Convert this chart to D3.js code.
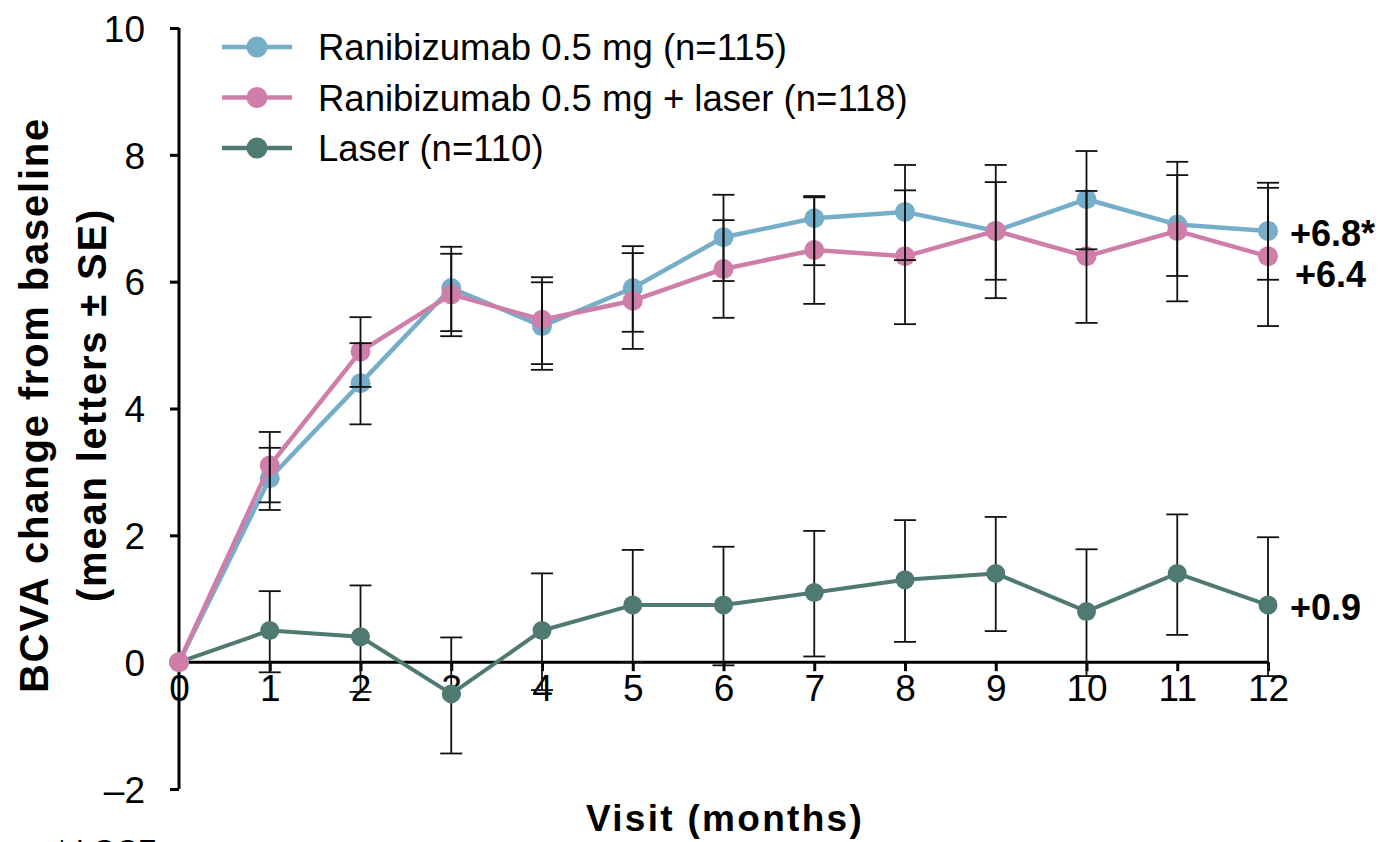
<!DOCTYPE html>
<html><head><meta charset="utf-8">
<script src="https://cdn.jsdelivr.net/npm/d3@7/dist/d3.min.js"></script>
<style>
html,body{margin:0;padding:0;background:#fff;overflow:hidden}
text{font-family:"Liberation Sans",Arial,sans-serif}
</style></head>
<body><svg id="chart" width="1382" height="842"></svg>
<script>
// ---- data ----
const months = [0,1,2,3,4,5,6,7,8,9,10,11,12];
const yTicks = [-2,0,2,4,6,8,10];
const seriesNames = ["Ranibizumab 0.5 mg (n=115)","Ranibizumab 0.5 mg + laser (n=118)","Laser (n=110)"];
const seriesColors = ["#76AEC9","#CE7EA9","#4F7A71"];
const endLabels = ["+6.8*","+6.4","+0.9"];

const raniMean = [0,2.9,4.4,5.9,5.3,5.9,6.7,7.0,7.1,6.8,7.3,6.9,6.8];
const raniHi   = [null,3.38,5.03,6.55,5.99,6.56,7.37,7.33,7.84,7.84,8.06,7.68,7.56];
const raniLo   = [null,2.40,3.75,5.22,4.61,5.21,6.01,6.26,6.34,5.74,6.51,6.09,6.03];

const comboMean = [0,3.1,4.9,5.8,5.4,5.7,6.2,6.5,6.4,6.8,6.4,6.8,6.4];
const comboHi   = [null,3.63,5.44,6.44,6.07,6.45,6.97,7.35,7.44,7.57,7.43,7.89,7.48];
const comboLo   = [null,2.52,4.34,5.14,4.70,4.94,5.43,5.65,5.33,6.03,5.35,5.69,5.30];

const laserMean = [0,0.5,0.4,-0.5,0.5,0.9,0.9,1.1,1.3,1.4,0.8,1.4,0.9];
const laserHi   = [null,1.12,1.21,0.39,1.40,1.77,1.82,2.07,2.24,2.29,1.78,2.33,1.97];
const laserLo   = [null,-0.16,-0.47,-1.44,-0.44,0.0,-0.05,0.09,0.32,0.49,-0.22,0.43,-0.22];

const series = [
  {name:seriesNames[0], color:seriesColors[0], mean:raniMean, hi:raniHi, lo:raniLo, label:endLabels[0]},
  {name:seriesNames[1], color:seriesColors[1], mean:comboMean, hi:comboHi, lo:comboLo, label:endLabels[1]},
  {name:seriesNames[2], color:seriesColors[2], mean:laserMean, hi:laserHi, lo:laserLo, label:endLabels[2]}
];

// ---- layout ----
const svg = d3.select("#chart");
const x = d3.scaleLinear().domain([0,12]).range([179,1268]);
const y = d3.scaleLinear().domain([-2,10]).range([789,28]);

// y axis
const yAxis = svg.append("g").attr("transform","translate(179,0)")
  .call(d3.axisLeft(y).tickValues(yTicks).tickSize(9).tickPadding(25)
    .tickFormat(d => d < 0 ? "\u2013" + Math.abs(d) : d));
yAxis.select(".domain").attr("stroke","#000").attr("stroke-width",3).attr("d",`M0,${y(10)}V${y(-2)}`);
yAxis.selectAll(".tick line").attr("stroke","#000").attr("stroke-width",3);
yAxis.selectAll(".tick text").attr("font-size",37).attr("fill","#000").attr("dy","0.36em");

// x axis at y=0
const xAxis = svg.append("g").attr("transform",`translate(0,${y(0)})`)
  .call(d3.axisBottom(x).tickValues(months).tickSize(9).tickPadding(4));
xAxis.select(".domain").attr("stroke","#000").attr("stroke-width",3).attr("d",`M${x(0)},0H${x(12)}`);
xAxis.selectAll(".tick line").attr("stroke","#000").attr("stroke-width",3);
xAxis.selectAll(".tick text").attr("font-size",37).attr("fill","#000");

// axis titles
svg.append("text").attr("x",725).attr("y",831).attr("text-anchor","middle")
  .attr("font-size",37).attr("letter-spacing",2.3).attr("font-weight","bold").text("Visit (months)");
const yt = svg.append("text").attr("transform","translate(0,405) rotate(-90)")
  .attr("text-anchor","middle").attr("font-size",40).attr("letter-spacing",1.8).attr("font-weight","bold");
yt.append("tspan").attr("x",0).attr("y",48).text("BCVA change from baseline");
yt.append("tspan").attr("x",0).attr("y",106).text("(mean letters \u00B1 SE)");

// footnote (cut at the bottom edge as in the reference)
svg.append("text").attr("x",56).attr("y",860).attr("font-size",30).text("* LOCF");

const line = d3.line().x((d,i)=>x(months[i])).y(d=>y(d));
const capW = 11;

function drawErr(s, g){
  months.forEach((m,i)=>{
    if (s.hi[i]==null) return;
    g.append("line").attr("x1",x(m)).attr("x2",x(m)).attr("y1",y(s.hi[i])).attr("y2",y(s.lo[i]))
      .attr("stroke","#111").attr("stroke-width",1.8);
    [s.hi[i], s.lo[i]].forEach(v=>{
      g.append("line").attr("x1",x(m)-capW).attr("x2",x(m)+capW).attr("y1",y(v)).attr("y2",y(v))
        .attr("stroke","#111").attr("stroke-width",1.8);
    });
  });
}
function drawSeries(s, g, r, w){
  g.append("path").datum(s.mean).attr("d",line).attr("fill","none")
    .attr("stroke",s.color).attr("stroke-width",w).attr("stroke-linejoin","round");
  g.selectAll("circle.m").data(s.mean).enter().append("circle")
    .attr("cx",(d,i)=>x(months[i])).attr("cy",d=>y(d)).attr("r",r).attr("fill",s.color);
}

// laser: error bars under the markers
const gL = svg.append("g");
drawErr(series[2], gL);
drawSeries(series[2], gL, 9.5, 4);
// ranibizumab arms: markers, then error bars on top
const gR = svg.append("g");
drawSeries(series[0], gR, 10, 4.5);
drawSeries(series[1], gR, 10, 4.5);
drawErr(series[0], gR);
drawErr(series[1], gR);

// end labels
const endDx = [22, 27, 22];
const endDy = [2, 18, 2];
series.forEach((s,k)=>{
  svg.append("text").attr("x",x(12)+endDx[k]).attr("y",y(s.mean[12])+endDy[k]).attr("dy","0.36em")
    .attr("font-size",36).attr("font-weight","bold").text(s.label);
});

// legend
const leg = svg.append("g");
series.forEach((s,k)=>{
  const cy = 47 + k*50.5;
  leg.append("line").attr("x1",222).attr("x2",292).attr("y1",cy).attr("y2",cy)
    .attr("stroke",s.color).attr("stroke-width",4.5);
  leg.append("circle").attr("cx",257).attr("cy",cy).attr("r",10.5).attr("fill",s.color);
  leg.append("text").attr("x",318).attr("y",cy).attr("dy","0.36em").attr("font-size",36.5).text(s.name);
});
</script></body></html>
